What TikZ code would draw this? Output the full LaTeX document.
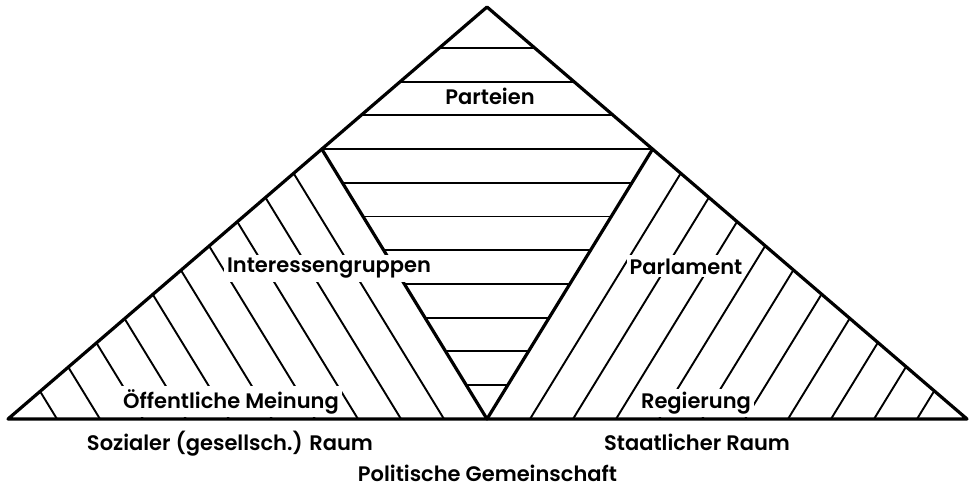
\documentclass[tikz,border=0pt]{standalone}
\usepackage{fontspec}
\setmainfont{Poppins}[UprightFont={* SemiBold}]
\usetikzlibrary{calc}

\begin{document}
\begin{tikzpicture}[x=1pt, y=1pt,
    every node/.style={font=\fontsize{21}{25}\selectfont},
    edge/.style={line width=3.2pt, line join=round, line cap=round},
    hatch/.style={line width=1.9pt},
    fieldtext/.style={fill=white, inner sep=3pt, anchor=base},
    spacetext/.style={inner sep=0pt, anchor=base}]
  \useasboundingbox (0,0) rectangle (972,488);
  \coordinate (L) at (8,69);
  \coordinate (R) at (967,69);
  \coordinate (A) at (487,481);
  \coordinate (B) at (487,69);
  % upper corners of the inner triangle, on the outer sides
  \coordinate (P) at (321.8,338.9);
  \coordinate (Q) at (652.6,338.9);

  % horizontal lines
  \begin{scope}
    \clip (A) -- (Q) -- (B) -- (P) -- cycle;
    \foreach \k in {0,...,10}
      \draw[hatch] (0,103+33.7*\k) -- (972,103+33.7*\k);
  \end{scope}
  \draw[hatch] (P) -- (Q);
  % slanted lines left
  \begin{scope}
    \clip (L) -- (P) -- (B) -- cycle;
    \foreach \k in {1,...,10}
      \draw[hatch] ($(B)+(-43*\k,0)$) -- ++($(P)-(B)$);
  \end{scope}
  % slanted lines right
  \begin{scope}
    \clip (R) -- (Q) -- (B) -- cycle;
    \foreach \k in {1,...,10}
      \draw[hatch] ($(B)+(43*\k,0)$) -- ++($(Q)-(B)$);
  \end{scope}

  \draw[edge] (P) -- (B) -- (Q);
  \draw[edge] (L) -- (A) -- (R) -- cycle;

  \node[fieldtext] (parteien) at (490,383) {Parteien};
  \node[fieldtext] (gruppen) at (329,215) {Interessengruppen};
  \node[fieldtext] (parlament) at (686,214) {Parlament};
  \node[fieldtext] (meinung) at (231,80) {Öffentliche Meinung};
  \node[fieldtext] (regierung) at (696,80) {Regierung};
  \node[spacetext] (sozial) at (230,38) {Sozialer (gesellsch.) Raum};
  \node[spacetext] (staat) at (697,38) {Staatlicher Raum};
  \node[spacetext] (gemeinschaft) at (487.5,6.5) {Politische Gemeinschaft};
\end{tikzpicture}
\end{document}
